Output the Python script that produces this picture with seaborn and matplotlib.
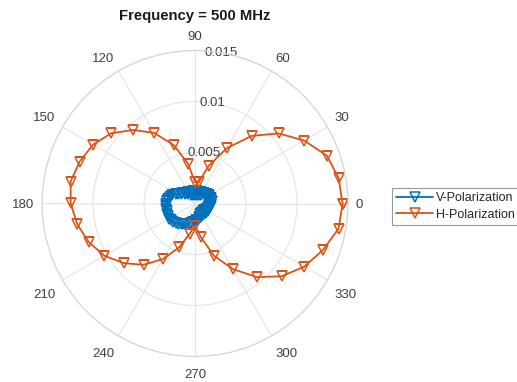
import numpy as np
import pandas as pd
import matplotlib
matplotlib.use("Agg")
import matplotlib.pyplot as plt
import seaborn as sns

# Radiation pattern at 500 MHz
title = "Frequency = 500 MHz"

# H-polarization, sampled every 10 degrees
h_angle_deg = list(range(0, 361, 10))
h_gain = [
    0.01447, 0.01430, 0.01375, 0.01235, 0.01069, 0.00865, 0.00627, 0.00395, 0.00211,
    0.00210, 0.00397, 0.00609, 0.00799, 0.00941, 0.01072, 0.01154, 0.01203, 0.01238,
    0.01219, 0.01172, 0.01108, 0.01025, 0.00910, 0.00784, 0.00628, 0.00459, 0.00301,
    0.00216, 0.00335, 0.00546, 0.00742, 0.00942, 0.01110, 0.01237, 0.01334, 0.01429,
    0.01447,
]

# V-polarization, sampled every 5 degrees
v_angle_deg = list(range(0, 361, 5))
v_gain = [
    0.00157, 0.00145, 0.00166, 0.00152, 0.00168, 0.00155, 0.00163, 0.00146, 0.00152,
    0.00125, 0.00138, 0.00106, 0.00127, 0.00092, 0.00120, 0.00088, 0.00122, 0.00086,
    0.00124, 0.00087, 0.00123, 0.00090, 0.00125, 0.00097, 0.00130, 0.00112, 0.00140,
    0.00135, 0.00160, 0.00168, 0.00195, 0.00210, 0.00240, 0.00252, 0.00270, 0.00274,
    0.00281, 0.00281, 0.00286, 0.00282, 0.00291, 0.00289, 0.00295, 0.00288, 0.00284,
    0.00268, 0.00258, 0.00241, 0.00235, 0.00222, 0.00219, 0.00203, 0.00199, 0.00183,
    0.00178, 0.00160, 0.00162, 0.00138, 0.00148, 0.00118, 0.00139, 0.00108, 0.00135,
    0.00108, 0.00138, 0.00112, 0.00142, 0.00118, 0.00148, 0.00128, 0.00155, 0.00140,
    0.00157,
]

series_names = ["V-Polarization", "H-Polarization"]
series_colors = ["#0072BD", "#D95319"]

r_max = 0.015
r_ticks = [0.005, 0.01, 0.015]
r_tick_labels = ["0.005", "0.01", "0.015"]
theta_ticks = list(range(0, 360, 30))
theta_tick_labels = [str(t) for t in theta_ticks]

v_df = pd.DataFrame({"theta": np.deg2rad(v_angle_deg), "gain": v_gain})
h_df = pd.DataFrame({"theta": np.deg2rad(h_angle_deg), "gain": h_gain})

sns.set_style("white")
plt.rcParams["font.family"] = ["Liberation Sans", "DejaVu Sans"]

W, H = 517, 382
fig = plt.figure(figsize=(W / 100, H / 100), dpi=100)
cx, cy, R = 195.0, 203.5, 153.0  # polar centre and radius in pixels
ax = fig.add_axes([(cx - R) / W, (H - cy - R) / H, 2 * R / W, 2 * R / H],
                  projection="polar")

grid_color = "#e6e6e6"
label_color = "#404040"

line_kw = dict(marker="v", markersize=6.6, markerfacecolor="none",
               markeredgewidth=1.1, linewidth=1.3, sort=False, estimator=None)
sns.lineplot(data=v_df, x="theta", y="gain", ax=ax, color=series_colors[0],
             markeredgecolor=series_colors[0], label=series_names[0], **line_kw)
sns.lineplot(data=h_df, x="theta", y="gain", ax=ax, color=series_colors[1],
             markeredgecolor=series_colors[1], label=series_names[1], **line_kw)

ax.set_ylim(0, r_max)
ax.set_yticks(r_ticks)
ax.set_yticklabels([])
ax.set_xticks(np.deg2rad(theta_ticks))
ax.set_xticklabels([])
ax.grid(True, color=grid_color, linewidth=0.9)
ax.spines["polar"].set_color("#d6d6d6")
ax.spines["polar"].set_linewidth(0.9)
ax.set_xlabel("")
ax.set_ylabel("")

# angle labels: the text box corner nearest the centre sits a small gap outside the rim
gap_px = 8.0
for t, lab in zip(theta_ticks, theta_tick_labels):
    a = np.deg2rad(t)
    c, s = np.cos(a), np.sin(a)
    half_w = 3.67 * len(lab)
    half_h = 5.0
    sx = 0.0 if abs(c) < 1e-6 else np.sign(c)
    sy = 0.0 if abs(s) < 1e-6 else np.sign(s)
    x = cx + (R + gap_px) * c + sx * half_w
    y = cy - (R + gap_px) * s - sy * half_h
    y += 6.0 if s < -1e-6 else (2.0 if abs(s) < 1e-6 else 0.0)
    fig.text(x / W, 1 - y / H, lab, ha="center", va="center",
             fontsize=9.5, color=label_color)

# radial tick labels along the 80 degree ray
for r, lab in zip(r_ticks, r_tick_labels):
    ax.text(np.deg2rad(80), r, lab, ha="center", va="center",
            fontsize=9.5, color=label_color, zorder=1)

handles, labels = ax.get_legend_handles_labels()
ax.get_legend().remove()
leg = fig.legend(handles, labels, loc="upper left",
                 bbox_to_anchor=(392 / W, 1 - 188 / H),
                 fontsize=9, frameon=True, fancybox=False, framealpha=1,
                 edgecolor="#9a9a9a", handlelength=2.9, handletextpad=0.3,
                 labelspacing=0.35, borderpad=0.35, borderaxespad=0)
leg.get_frame().set_linewidth(0.8)

fig.text(195 / W, 1 - 16 / H, title, ha="center", va="center",
         fontsize=10.7, fontweight="bold", color="#1a1a1a")

fig.savefig("out.png", dpi=100)
